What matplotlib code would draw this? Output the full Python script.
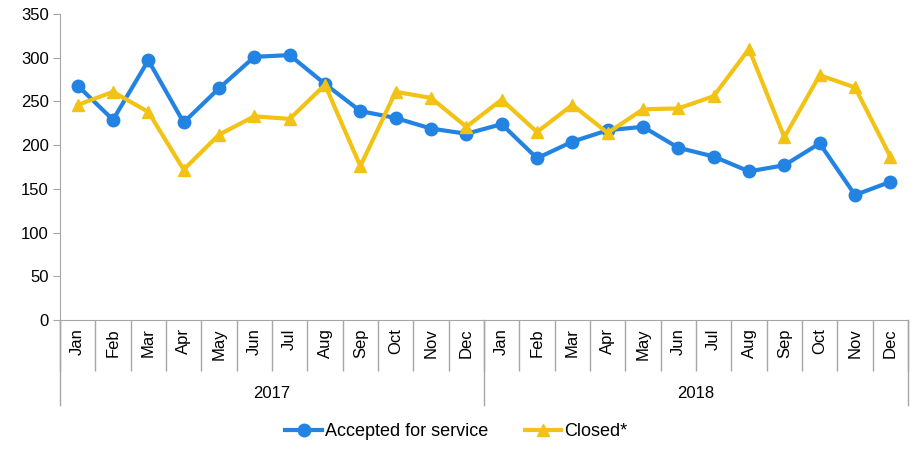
import matplotlib
matplotlib.use("Agg")
import matplotlib.pyplot as plt
import matplotlib.transforms as mtransforms

plt.rcParams["font.family"] = ["Liberation Sans", "DejaVu Sans"]

months = ["Jan", "Feb", "Mar", "Apr", "May", "Jun", "Jul", "Aug", "Sep", "Oct", "Nov", "Dec"]
years = ["2017", "2018"]
accepted = [268, 229, 297, 226, 265, 301, 303, 270, 239, 231, 219, 213,
            224, 185, 204, 217, 221, 197, 187, 170, 177, 202, 143, 158]
closed = [246, 261, 238, 172, 212, 233, 230, 269, 176, 261, 254, 221,
          252, 215, 246, 214, 241, 242, 256, 310, 209, 280, 266, 187]

blue = "#2383E2"
yellow = "#F2C314"
grey = "#A6A6A6"

labels = months * len(years)
x = list(range(len(labels)))

fig = plt.figure(figsize=(9.13, 4.49), dpi=100)
ax = fig.add_axes([60 / 913, 1 - 320 / 449, 848 / 913, 306 / 449])

ax.plot(x, accepted, color=blue, lw=3, marker="o", ms=9, label="Accepted for service")
ax.plot(x, closed, color=yellow, lw=3, marker="^", ms=9, label="Closed*")

ax.set_xlim(-0.5, len(labels) - 0.5)
ax.set_ylim(0, 350)
ax.set_yticks(range(0, 351, 50))
ax.tick_params(axis="y", labelsize=12, length=5, color=grey, pad=3)

# month labels, separators as long minor ticks
ax.set_xticks(x)
ax.set_xticklabels(labels, rotation=90, fontsize=12)
ax.tick_params(axis="x", which="major", length=0, pad=6)
ax.set_xticks([i - 0.5 for i in range(len(labels) + 1)], minor=True)
ax.tick_params(axis="x", which="minor", length=37, color=grey, width=1)

for s in ["top", "right"]:
    ax.spines[s].set_visible(False)
for s in ["left", "bottom"]:
    ax.spines[s].set_color(grey)

# year labels and separators
trans = mtransforms.blended_transform_factory(ax.transData, fig.transFigure)
for i, yr in enumerate(years):
    ax.text(i * 12 + 5.5, 1 - 393 / 449, yr, transform=trans, ha="center", va="center",
            fontsize=12)
for b in range(len(years) + 1):
    xb = b * 12 - 0.5
    ax.plot([xb, xb], [1 - 320 / 449, 1 - 405 / 449], transform=trans, color=grey,
            lw=1, clip_on=False)

fig.legend(loc="center", bbox_to_anchor=(0.5, 1 - 432 / 449), ncol=2, frameon=False,
           fontsize=13, handlelength=2, columnspacing=2, handletextpad=0.2)

fig.savefig("out.png", dpi=100)
